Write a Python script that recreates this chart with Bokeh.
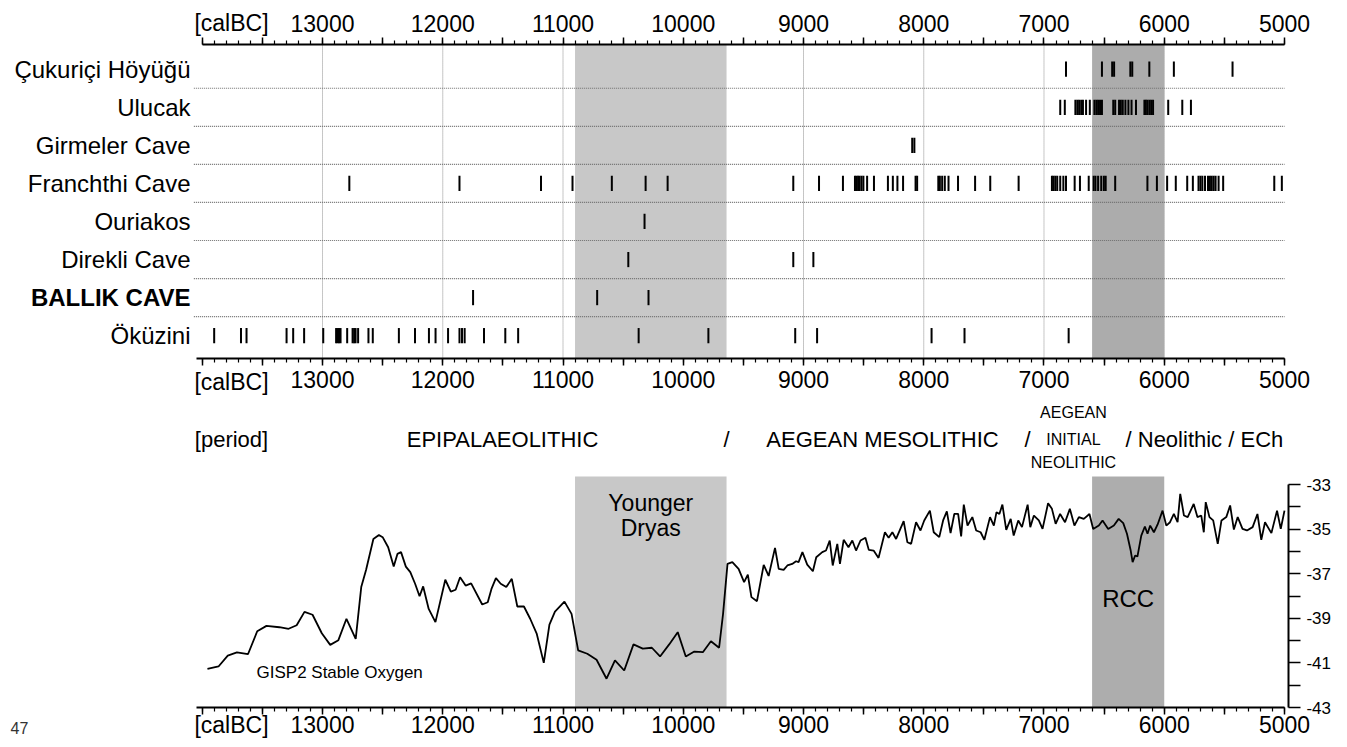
from bokeh.plotting import figure
from bokeh.models import ColumnDataSource, FixedTicker, LinearAxis, Range1d
from bokeh.core.properties import value
from bokeh.embed import file_html
from bokeh.resources import INLINE

SANS = "Liberation Sans"

# ---------------- data ----------------
sites = ["Çukuriçi Höyüğü", "Ulucak", "Girmeler Cave", "Franchthi Cave",
         "Ouriakos", "Direkli Cave", "BALLIK CAVE", "Öküzini"]

cukurici = [6817, 6518, 6433, 6417, 6282, 6266, 6124, 5920, 5432]
ulucak = [6865, 6827, 6739, 6723, 6708, 6691, 6676, 6650, 6619, 6581, 6565, 6550,
          6534, 6518, 6424, 6408, 6376, 6361, 6345, 6323, 6298, 6272, 6235, 6165,
          6153, 6140, 6124, 6109, 6093, 5967, 5850, 5778]
girmeler = [8096, 8078]
franchthi = [12777, 11861, 11183, 10921, 10594, 10313, 10130, 9085, 8871, 8672,
             8572, 8559, 8546, 8534, 8518, 8502, 8471, 8414, 8298, 8257, 8219, 8172,
             8068, 8055, 7879, 7866, 7847, 7825, 7794, 7715, 7573, 7447, 7211, 6934,
             6921, 6906, 6890, 6865, 6839, 6817, 6745, 6701, 6628, 6587, 6572, 6550,
             6524, 6502, 6487, 6408, 6140, 6061, 5976, 5904, 5809, 5762, 5715, 5699,
             5683, 5661, 5636, 5620, 5605, 5589, 5573, 5548, 5510, 5085, 5022]
ouriakos = [10322]
direkli = [10457, 9085, 8918]
ballik = [11748, 10716, 10289]
okuzini = [13901, 13678, 13632, 13299, 13244, 13153, 12994, 12887, 12875, 12863,
           12850, 12795, 12750, 12737, 12725, 12704, 12618, 12582, 12365, 12231,
           12115, 12060, 11956, 11861, 11840, 11818, 11657, 11480, 11373, 10371,
           9791, 9069, 8887, 7935, 7661, 6795]

site_dates = [cukurici, ulucak, girmeler, franchthi, ouriakos, direkli, ballik, okuzini]

band_start = [10900, 6600]   # Younger Dryas, RCC (calBC)
band_end = [9640, 6000]
band_color_top = ["#c8c8c8", "#acacac"]
band_color_bottom = ["#c8c8c8", "#adadad"]

gisp2_year = [
    13957, 13865, 13788, 13712, 13620, 13543, 13466, 13359, 13282, 13215,
    13150, 13083, 13006, 12936, 12868, 12801, 12724, 12678, 12638, 12577,
    12531, 12500, 12454, 12408, 12377, 12347, 12307, 12270, 12230, 12193,
    12163, 12117, 12061, 11979, 11933, 11893, 11856, 11810, 11764, 11672,
    11626, 11595, 11558, 11518, 11472, 11426, 11380, 11325, 11273, 11218,
    11160, 11113, 11067, 10988, 10929, 10874, 10798, 10721, 10638, 10568,
    10491, 10414, 10337, 10261, 10193, 10117, 10046, 9979, 9908, 9837,
    9770, 9702, 9669, 9632, 9592, 9540, 9494, 9463, 9433, 9387,
    9331, 9290, 9237, 9206, 9165, 9134, 9094, 9062, 9041, 9009,
    8969, 8922, 8894, 8844, 8813, 8782, 8757, 8719, 8697, 8666,
    8626, 8594, 8563, 8526, 8485, 8457, 8417, 8376, 8323, 8292,
    8261, 8230, 8167, 8136, 8105, 8064, 8027, 7996, 7949, 7917,
    7871, 7839, 7808, 7777, 7746, 7714, 7689, 7667, 7636, 7596,
    7564, 7527, 7496, 7449, 7417, 7395, 7371, 7346, 7314, 7277,
    7252, 7214, 7183, 7136, 7114, 7084, 7043, 7012, 6966, 6934,
    6903, 6866, 6825, 6785, 6747, 6710, 6669, 6622, 6591, 6544,
    6513, 6466, 6419, 6379, 6341, 6310, 6279, 6263, 6242, 6223,
    6191, 6161, 6139, 6117, 6086, 6055, 6014, 5983, 5952, 5920,
    5889, 5867, 5836, 5805, 5755, 5724, 5692, 5671, 5655, 5624,
    5593, 5555, 5524, 5484, 5452, 5421, 5389, 5349, 5312, 5265,
    5225, 5193, 5162, 5109, 5062, 5031, 5000]
gisp2_d18o = [
    -41.27, -41.16, -40.67, -40.53, -40.61, -39.58, -39.34, -39.40, -39.47, -39.31,
    -38.71, -38.84, -39.67, -40.19, -39.98, -39.02, -39.92, -37.60, -36.83, -35.44,
    -35.26, -35.36, -35.81, -36.68, -36.11, -36.03, -36.68, -36.93, -37.45, -38.01,
    -37.57, -38.58, -39.17, -37.27, -37.80, -37.72, -37.16, -37.53, -37.43, -38.38,
    -38.28, -37.68, -37.20, -37.45, -37.60, -37.23, -38.47, -38.47, -39.02, -39.70,
    -41.00, -39.28, -38.70, -38.25, -38.80, -40.44, -40.59, -40.86, -41.71, -40.89,
    -41.34, -40.17, -40.36, -40.32, -40.71, -40.17, -39.62, -40.71, -40.49, -40.52,
    -40.03, -40.32, -38.80, -36.56, -36.48, -36.78, -37.38, -37.04, -38.05, -38.23,
    -36.60, -37.10, -35.84, -36.78, -36.83, -36.63, -36.56, -36.44, -36.48, -36.03,
    -36.59, -36.89, -36.26, -36.03, -35.96, -35.51, -36.63, -35.66, -36.56, -35.48,
    -35.81, -35.51, -35.96, -35.51, -35.39, -35.93, -35.96, -36.29, -35.14, -35.39,
    -35.14, -35.44, -34.64, -35.59, -35.66, -34.69, -35.06, -34.61, -34.17, -35.14,
    -35.36, -34.61, -34.20, -35.18, -34.32, -34.32, -35.33, -33.90, -34.84, -34.46,
    -35.06, -35.14, -35.48, -34.46, -34.84, -34.24, -34.32, -33.90, -35.03, -34.54,
    -35.29, -34.61, -34.91, -33.90, -34.91, -34.39, -34.61, -34.99, -33.84, -34.09,
    -34.76, -34.32, -34.69, -34.09, -34.84, -34.46, -34.54, -34.32, -34.99, -34.84,
    -34.61, -34.99, -34.84, -34.54, -34.73, -35.21, -35.96, -36.48, -36.18, -36.23,
    -35.29, -34.88, -35.21, -34.84, -35.14, -34.79, -34.17, -34.84, -34.69, -34.32,
    -34.69, -33.42, -34.39, -34.46, -33.87, -34.46, -34.39, -35.14, -33.79, -34.46,
    -34.61, -35.66, -34.61, -34.46, -33.94, -35.02, -34.46, -34.99, -35.06, -34.91,
    -34.32, -35.48, -34.69, -35.18, -34.17, -34.99, -34.17]

time_major = list(range(5000, 14001, 500))
time_minor = list(range(5000, 14001, 100))
time_labels = {t: (str(t) if t % 1000 == 0 and t < 14000 else "") for t in time_major}
grid_years = list(range(6000, 13001, 1000))
oxy_ticks = list(range(-43, -32))
oxy_labels = {t: (str(t) if t % 2 else "") for t in oxy_ticks}

# ---------------- figure (frame = whole canvas) ----------------
XL, XR = 15678, 4476
YB, YT = -10.221, 9.406
OB, OT = -44.794, -11.29

p = figure(width=1347, height=747, x_range=Range1d(XL, XR), y_range=Range1d(YB, YT),
           output_backend="svg", toolbar_location=None,
           x_axis_location=None, y_axis_location=None,
           min_border_left=0, min_border_right=0, min_border_top=0, min_border_bottom=0)
p.extra_y_ranges = {"oxy": Range1d(OB, OT)}
p.outline_line_color = None
p.xgrid.visible = False
p.ygrid.visible = False
p.background_fill_color = "white"
p.border_fill_color = "white"

PANEL_TOP = 8.25
p.segment(x0=grid_years, x1=grid_years, y0=[0] * len(grid_years), y1=[PANEL_TOP] * len(grid_years),
          line_color="#8c8c8c", line_dash="1 1", line_width=1)
p.quad(left=band_start, right=band_end, bottom=0, top=PANEL_TOP,
       fill_color=band_color_top, line_color=None)
p.quad(left=band_start, right=band_end, bottom=-43, top=-32.64,
       fill_color=band_color_bottom, line_color=None, y_range_name="oxy")

row_y = [7.6 - i for i in range(len(sites))]
sep_y = [k + 0.1 for k in range(1, 8)]
p.segment(x0=[14070] * len(sep_y), x1=[5000] * len(sep_y), y0=sep_y, y1=sep_y,
          line_color="#6f6f6f", line_dash="1 1", line_width=1.2)

xs, y0s, y1s = [], [], []
for yy, dates in zip(row_y, site_dates):
    for d in dates:
        xs.append(d)
        y0s.append(yy - 0.2)
        y1s.append(yy + 0.2)
src = ColumnDataSource(dict(x=xs, y0=y0s, y1=y1s))
p.segment(x0="x", x1="x", y0="y0", y1="y1", source=src, line_color="black", line_width=2)

p.line(gisp2_year, gisp2_d18o, line_color="black", line_width=1.8, y_range_name="oxy")


def time_axis(loc, standoff, bounds, yname="default"):
    ax = LinearAxis(ticker=FixedTicker(ticks=time_major, minor_ticks=time_minor),
                    fixed_location=loc, bounds=bounds, y_range_name=yname)
    ax.major_label_overrides = time_labels
    ax.axis_line_width = 2
    ax.axis_line_color = "black"
    ax.major_tick_line_width = 1.5
    ax.minor_tick_line_width = 1.2
    ax.major_tick_out = 7
    ax.major_tick_in = 0
    ax.minor_tick_out = 4
    ax.minor_tick_in = 0
    ax.major_label_text_font = SANS
    ax.major_label_text_font_size = "23px"
    ax.major_label_text_color = "black"
    ax.major_label_standoff = standoff
    return ax


p.add_layout(time_axis(PANEL_TOP, 5, (5000, 14000)), "above")
p.add_layout(time_axis(0, 6, (5000, 14050)), "below")
p.add_layout(time_axis(-43, 1, (5000, 14050), "oxy"), "below")

ry = LinearAxis(ticker=FixedTicker(ticks=oxy_ticks, minor_ticks=[]), y_range_name="oxy",
                fixed_location=4967, bounds=(-43, -33))
ry.major_label_overrides = oxy_labels
ry.axis_line_width = 2
ry.major_tick_line_width = 1.5
ry.major_tick_out = 12
ry.major_tick_in = 0
ry.major_label_text_font = SANS
ry.major_label_text_font_size = "17px"
ry.major_label_text_color = "black"
ry.major_label_standoff = 6
p.add_layout(ry, "right")

# site labels
p.text(x=[14098] * len(sites), y=row_y, text=sites, text_align="right", text_baseline="middle",
       text_font=value(SANS), text_font_size="24px", text_color="black",
       text_font_style=["bold" if s == "BALLIK CAVE" else "normal" for s in sites])

# unit labels and period row
p.text(x=[13757, 13757], y=[8.81, -0.62], text=["[calBC]", "[calBC]"], text_align="center",
       text_baseline="middle", text_font=value(SANS), text_font_size="23px", text_color="black")
period_text = ["[period]", "EPIPALAEOLITHIC", "/", "AEGEAN MESOLITHIC", "/"]
period_x = [13757, 11503, 9640, 8343, 7137]
p.text(x=period_x, y=[-2.12] * len(period_x), text=period_text, text_align="center",
       text_baseline="middle", text_font=value(SANS), text_font_size="22px", text_color="black")
p.text(x=[6322], y=[-2.12], text=["/ Neolithic / ECh"], text_align="left",
       text_baseline="middle", text_font=value(SANS), text_font_size="22px", text_color="black")
p.text(x=[6755] * 3, y=[-1.43, -2.12, -2.74], text=["AEGEAN", "INITIAL", "NEOLITHIC"],
       text_align="center", text_baseline="middle", text_font=value(SANS),
       text_font_size="16px", text_color="black")

# bottom panel annotations
p.text(x=[10270, 10270], y=[-33.806, -34.927], text=["Younger", "Dryas"], text_align="center",
       text_baseline="middle", text_font=value(SANS), text_font_size="23px", text_color="black",
       y_range_name="oxy")
p.text(x=[6300], y=[-38.1], text=["RCC"], text_align="center", text_baseline="middle",
       text_font=value(SANS), text_font_size="24px", text_color="black", y_range_name="oxy")
p.text(x=[13549], y=[-41.43], text=["GISP2 Stable Oxygen"], text_align="left",
       text_baseline="middle", text_font=value(SANS), text_font_size="17px", text_color="black",
       y_range_name="oxy")
p.text(x=[13757], y=[-43.78], text=["[calBC]"], text_align="center", text_baseline="middle",
       text_font=value(SANS), text_font_size="23px", text_color="black", y_range_name="oxy")
p.text(x=[15520], y=[-43.897], text=["47"], text_align="center", text_baseline="middle",
       text_font=value(SANS), text_font_size="16px", text_color="#333333", y_range_name="oxy")

open("out.html", "w").write(file_html(p, INLINE))
